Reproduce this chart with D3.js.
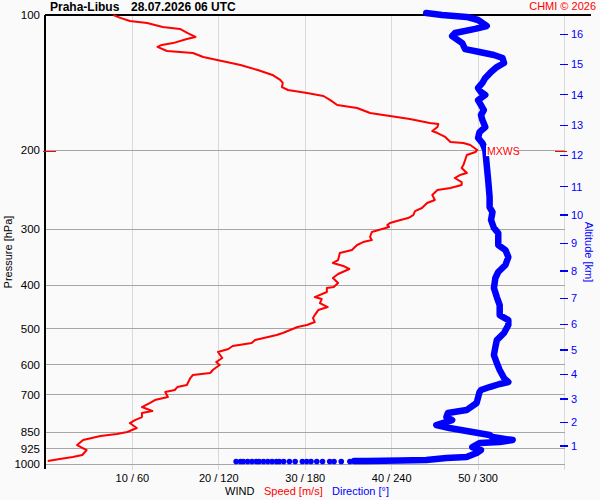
<!DOCTYPE html>
<html>
<head>
<meta charset="utf-8">
<script src="https://cdn.jsdelivr.net/npm/d3@7"></script>
<style>
  html, body { margin: 0; padding: 0; background: #fafafa; }
  svg { display: block; font-family: "Liberation Sans", Arial, sans-serif; }
</style>
</head>
<body>
<div id="chart"></div>
<script>
// wind speed profile [m/s] against pressure [hPa]
var speedPres = [100, 101.5, 103.1, 104.2, 106.3, 107.4, 109.7, 111.9, 113.1, 115.5, 116.6, 117.8,
  120.3, 120.9, 121.5, 124.0, 125.9, 127.3, 129.2, 132.6, 136.0, 139.5, 141.7, 144.7, 146.9,
  149.2, 151.5, 154.7, 158.7, 161.1, 163.6, 165.3, 167.9, 170.5, 174.0, 174.9, 177.6, 181.3,
  183.2, 186.9, 191.8, 192.8, 194.8, 199.8, 201.9, 205.0, 210.4, 215.9, 219.2, 224.9, 227.2,
  230.7, 235.5, 239.1, 242.9, 245.4, 251.7, 258.2, 262.2, 269.1, 273.3, 279.0, 283.3, 287.7,
  290.6, 293.6, 296.6, 299.7, 304.3, 312.2, 317.1, 320.4, 325.3, 333.8, 339.0, 351.3, 356.7,
  362.2, 367.9, 377.4, 385.3, 395.3, 403.5, 405.6, 413.9, 424.8, 429.2, 438.1, 447.2, 454.1,
  465.9, 473.1, 482.9, 490.4, 495.4, 510.9, 516.2, 529.6, 537.7, 546.1, 554.5, 563.1, 580.7,
  592.8, 602.0, 611.3, 617.6, 627.1, 633.6, 643.5, 667.0, 673.9, 684.3, 691.4, 709.3, 720.3,
  731.5, 746.7, 762.2, 770.1, 786.0, 798.2, 810.6, 831.6, 848.8, 857.5, 866.4, 884.5, 907.4,
  931.0, 954.9, 964.7, 974.7, 984.7];
var speedVals = [7.8, 8.6, 9.7, 11.7, 13.5, 15.5, 16.4, 17.3, 16.3, 14.7, 13.4, 12.9,
  14.0, 15.5, 17.0, 18.2, 19.8, 20.9, 22.5, 24.5, 26.2, 27.1, 27.4, 27.3, 28.0,
  30.2, 32.1, 32.9, 33.7, 36.0, 36.9, 37.5, 39.8, 42.1, 44.4, 45.4, 45.3, 44.7,
  45.3, 46.2, 46.8, 48.3, 49.1, 49.9, 49.7, 48.7, 48.5, 48.3, 48.1, 48.7, 47.9,
  47.3, 48.1, 48.1, 46.8, 45.3, 44.7, 45.0, 44.1, 43.5, 42.7, 42.5, 41.9, 40.6,
  39.8, 39.5, 39.7, 38.9, 37.7, 37.5, 37.7, 36.7, 36.0, 35.4, 34.0, 33.8, 33.2,
  34.4, 35.1, 33.8, 33.2, 33.8, 33.3, 32.5, 32.5, 31.1, 31.9, 31.7, 32.6, 31.5,
  31.1, 30.9, 31.1, 30.2, 29.1, 27.4, 26.7, 24.2, 23.8, 21.6, 21.1, 19.9, 20.4,
  19.7, 20.1, 19.6, 19.3, 19.0, 17.0, 16.7, 16.3, 15.2, 14.9, 13.8, 14.1, 12.6,
  12.0, 11.1, 12.3, 11.1, 11.1, 10.3, 9.7, 10.5, 9.4, 8.2, 6.3, 4.3, 3.6,
  4.7, 4.2, 3.1, 1.6, 0.2];

// wind direction profile [deg] against pressure [hPa]
var dirPres = [99.0, 100, 101.0, 102.6, 105.8, 107.4, 109.7, 111.4, 115.5, 119.1, 120.9, 122.8,
  124.7, 127.9, 130.6, 133.9, 138.1, 141.7, 145.4, 148.4, 150.7, 154.7, 158.7, 162.8, 167.0,
  171.4, 177.6, 182.3, 187.9, 192.8, 199.8, 215.9, 233.1, 254.3, 267.7, 274.7, 286.1, 298.1,
  305.9, 325.3, 333.8, 346.0, 360.4, 373.6, 385.3, 405.6, 424.8, 442.6, 465.9, 478.0, 490.4,
  510.9, 529.6, 548.9, 571.9, 595.8, 617.6, 643.5, 656.8, 663.5, 673.9, 684.3, 691.4, 731.5,
  758.3, 770.1, 786.0, 798.2, 818.9, 831.6, 848.8, 862.0, 870.9, 884.5, 893.6, 898.2, 916.8,
  931.0, 945.2, 964.7, 969.6, 979.7, 982.0, 984.7, 985.0];
var dirVals = [264, 275, 292, 300, 306, 298, 284, 282, 289, 291, 301, 311,
  317, 318, 313, 309, 305, 303, 300, 302, 305, 300, 302, 304, 302,
  303, 305, 301, 300, 303, 305, 306, 307, 308, 308, 310, 309, 311,
  314, 314, 319, 321, 319, 314, 312, 311, 313, 315, 315, 321, 321,
  318, 313, 312, 311, 313, 315, 318, 321, 315, 308, 302, 301, 299,
  292, 279, 278, 282, 271, 280, 296, 308, 310, 324, 315, 301, 296,
  302, 299, 292, 278, 264, 246, 223, 214];

// scattered direction samples taken at the surface level
var surfacePres = 987;
var surfaceDirs = [211, 205, 200, 197, 192, 188, 184, 181, 178, 173, 169, 165,
  162, 160, 157, 154, 151, 148, 146, 143, 140, 137, 135, 132];

var pressureTicks = [100, 200, 300, 400, 500, 600, 700, 850, 925, 1000];
var speedTicks = [10, 20, 30, 40, 50, 60];
var dirTicks = [60, 120, 180, 240, 300, 360];
var altKm = [1, 2, 3, 4, 5, 6, 7, 8, 9, 10, 11, 12, 13, 14, 15, 16];
var altPres = [912.1, 807.6, 716.6, 631.2, 557.2, 488.6, 427.6, 371.7, 322.5, 279.0,
  241.3, 205.4, 176.1, 150.5, 128.8, 110.4];
var maxWindPres = 201;

var width = 600;
var height = 500;
var plotLeft = 46;
var plotRight = 564.5;
var plotTop = 15;
var plotBottom = 464;

var svg = d3.select('#chart').append('svg')
  .attr('width', width)
  .attr('height', height);

svg.append('rect')
  .attr('width', width)
  .attr('height', height)
  .attr('fill', '#fafafa');

var x = d3.scaleLinear().domain([0, 60]).range([plotLeft, plotRight]);
var xDir = d3.scaleLinear().domain([0, 360]).range([plotLeft, plotRight]);
var y = d3.scaleLog().domain([100, 1000]).range([plotTop, plotBottom]);

// vertical grid (speed / direction)
svg.append('g').selectAll('line')
  .data(speedTicks)
  .enter().append('line')
  .attr('x1', function (d) { return x(d); })
  .attr('x2', function (d) { return x(d); })
  .attr('y1', plotTop)
  .attr('y2', plotBottom + 6)
  .attr('stroke', '#d9d9d9')
  .attr('stroke-width', 1)
  .attr('shape-rendering', 'crispEdges');

// horizontal grid (pressure)
svg.append('g').selectAll('line')
  .data(pressureTicks.slice(1))
  .enter().append('line')
  .attr('x1', plotLeft - 1)
  .attr('x2', plotRight)
  .attr('y1', function (d) { return y(d); })
  .attr('y2', function (d) { return y(d); })
  .attr('stroke', '#a6a6a6')
  .attr('stroke-width', 1)
  .attr('shape-rendering', 'crispEdges');

// frame
svg.append('line')
  .attr('x1', plotLeft - 1).attr('x2', 591)
  .attr('y1', plotTop).attr('y2', plotTop)
  .attr('stroke', '#000').attr('stroke-width', 1.3)
  .attr('shape-rendering', 'crispEdges');
svg.append('line')
  .attr('x1', plotLeft - 1).attr('x2', plotLeft - 1)
  .attr('y1', plotTop).attr('y2', plotBottom + 5)
  .attr('stroke', '#000').attr('stroke-width', 1.3)
  .attr('shape-rendering', 'crispEdges');

// pressure labels
svg.append('g').selectAll('text')
  .data(pressureTicks)
  .enter().append('text')
  .attr('x', 40)
  .attr('y', function (d) { return y(d); })
  .attr('dy', '0.36em')
  .attr('text-anchor', 'end')
  .attr('font-size', 11.5)
  .attr('fill', '#000')
  .text(function (d) { return d; });

svg.append('text')
  .attr('transform', 'translate(12,252)rotate(-90)')
  .attr('text-anchor', 'middle')
  .attr('font-size', 11)
  .text('Pressure [hPa]');

// wind tick labels
svg.append('g').selectAll('text')
  .data(speedTicks.slice(0, 5))
  .enter().append('text')
  .attr('x', function (d) { return x(d); })
  .attr('y', 482)
  .attr('text-anchor', 'middle')
  .attr('font-size', 11)
  .text(function (d, i) { return d + ' / ' + dirTicks[i]; });

var legend = svg.append('text')
  .attr('x', 225)
  .attr('y', 495)
  .attr('font-size', 11);
legend.append('tspan').attr('fill', '#000').text('WIND');
legend.append('tspan').attr('x', 264).attr('fill', '#ff0000').text('Speed [m/s]');
legend.append('tspan').attr('x', 332).attr('fill', '#0000ff').text('Direction [°]');

// altitude axis
var alt = svg.append('g');
alt.selectAll('line')
  .data(altKm)
  .enter().append('line')
  .attr('x1', 560)
  .attr('x2', 568)
  .attr('y1', function (d, i) { return y(altPres[i]); })
  .attr('y2', function (d, i) { return y(altPres[i]); })
  .attr('stroke', '#0000ff')
  .attr('stroke-width', 1.3)
  .attr('shape-rendering', 'crispEdges');
alt.selectAll('text')
  .data(altKm)
  .enter().append('text')
  .attr('x', 571)
  .attr('y', function (d, i) { return y(altPres[i]); })
  .attr('dy', '0.36em')
  .attr('font-size', 11)
  .attr('fill', '#0000ff')
  .text(function (d) { return d; });

svg.append('text')
  .attr('transform', 'translate(585,252)rotate(90)')
  .attr('text-anchor', 'middle')
  .attr('font-size', 11)
  .attr('fill', '#0000ff')
  .text('Altitude [km]');

// speed line
var speedLine = d3.line()
  .x(function (d) { return x(d[1]); })
  .y(function (d) { return y(d[0]); });

svg.append('path')
  .datum(d3.zip(speedPres, speedVals))
  .attr('d', speedLine)
  .attr('fill', 'none')
  .attr('stroke', '#ff0000')
  .attr('stroke-width', 2)
  .attr('stroke-linejoin', 'round');

// direction line
var dirLine = d3.line()
  .x(function (d) { return xDir(d[1]); })
  .y(function (d) { return y(d[0]); });

svg.append('path')
  .datum(d3.zip(dirPres, dirVals))
  .attr('d', dirLine)
  .attr('fill', 'none')
  .attr('stroke', '#0000ff')
  .attr('stroke-width', 6.5)
  .attr('stroke-linejoin', 'round')
  .attr('stroke-linecap', 'round');

svg.append('g').selectAll('circle')
  .data(surfaceDirs)
  .enter().append('circle')
  .attr('cx', function (d) { return xDir(d); })
  .attr('cy', y(surfacePres))
  .attr('r', 2.8)
  .attr('fill', '#0000ff');

// max wind marker
var mx = y(maxWindPres);
svg.append('line')
  .attr('x1', 43).attr('x2', 56).attr('y1', mx).attr('y2', mx)
  .attr('stroke', '#ff0000').attr('stroke-width', 1.2)
  .attr('shape-rendering', 'crispEdges');
svg.append('line')
  .attr('x1', 555).attr('x2', 567).attr('y1', mx).attr('y2', mx)
  .attr('stroke', '#ff0000').attr('stroke-width', 1.2)
  .attr('shape-rendering', 'crispEdges');
svg.append('rect')
  .attr('x', 486).attr('y', mx - 6).attr('width', 31).attr('height', 11)
  .attr('fill', '#ffffff');
svg.append('text')
  .attr('x', 487)
  .attr('y', mx)
  .attr('dy', '0.36em')
  .attr('font-size', 10.5)
  .attr('fill', '#ff0000')
  .text('MXWS');

// titles
svg.append('text')
  .attr('x', 50)
  .attr('y', 11)
  .attr('font-size', 12)
  .attr('font-weight', 'bold')
  .text('Praha-Libus');
svg.append('text')
  .attr('x', 131)
  .attr('y', 11)
  .attr('font-size', 12)
  .attr('font-weight', 'bold')
  .text('28.07.2026 06 UTC');
svg.append('text')
  .attr('x', 596)
  .attr('y', 10)
  .attr('text-anchor', 'end')
  .attr('font-size', 11)
  .attr('fill', '#ff0000')
  .text('CHMI © 2026');
</script>
</body>
</html>
